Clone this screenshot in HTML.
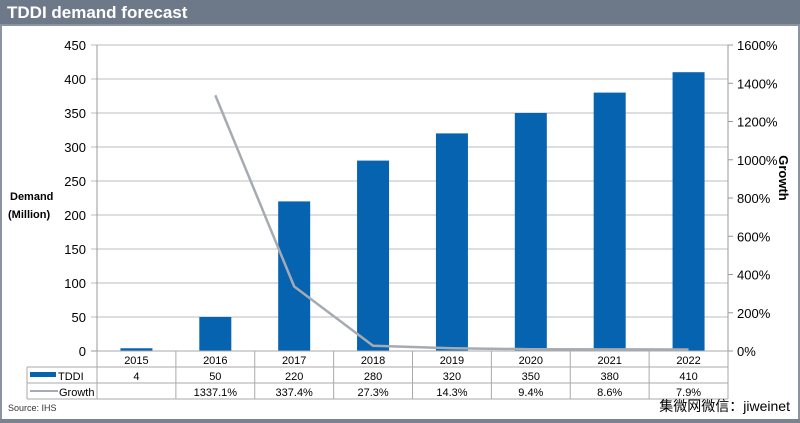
<!DOCTYPE html>
<html><head><meta charset="utf-8"><style>
body{margin:0;background:#fff;font-family:"Liberation Sans",Arial,sans-serif}
#wrap{position:relative;width:800px;height:423px;overflow:hidden;background:#fff}
</style></head><body>
<div id="wrap">
<svg id="svg" width="800" height="423" xmlns="http://www.w3.org/2000/svg" font-family="Liberation Sans, Arial, sans-serif">
<rect x="0" y="0" width="800" height="25" fill="#6d7989"/>
<text x="7" y="18" fill="#fff" font-size="17" font-weight="bold">TDDI demand forecast</text>
<rect x="1" y="25" width="798" height="395" fill="none" stroke="#8a94a0" stroke-width="2"/>
<rect x="0" y="419" width="800" height="4" fill="#7a8490"/>
<g id="grid"></g><g id="bars"></g><g id="line"></g><g id="axes"></g><g id="table"></g>
<text x="10" y="200" font-size="11" font-weight="bold">Demand</text>
<text x="8" y="218" font-size="11" font-weight="bold">(Million)</text>
<text transform="translate(779,178) rotate(90)" font-size="13" font-weight="bold" text-anchor="middle">Growth</text>
<text x="8" y="411" font-size="9" fill="#333">Source: IHS</text>
<text x="790" y="411" font-size="14" text-anchor="end" font-family="Liberation Sans, Noto Sans CJK SC, sans-serif">集微网微信：jiweinet</text>
</svg>
<script>
const categories=["2015","2016","2017","2018","2019","2020","2021","2022"];
const demand=[4,50,220,280,320,350,380,410];
const growth=[null,1337.1,337.4,27.3,14.3,9.4,8.6,7.9];
const growthLabels=["","1337.1%","337.4%","27.3%","14.3%","9.4%","8.6%","7.9%"];
const leftTicks=[0,50,100,150,200,250,300,350,400,450];
const rightTicks=[0,200,400,600,800,1000,1200,1400,1600];
const NS="http://www.w3.org/2000/svg";
const x0=97,x1=728,yTop=45,yBot=351;
const bw=(x1-x0)/categories.length;
const y=v=>yBot-v/450*(yBot-yTop);
const y2=v=>yBot-v/1600*(yBot-yTop);
const xc=i=>x0+bw*(i+0.5);
function mk(tag,attrs,parent,txt){const e=document.createElementNS(NS,tag);for(const k in attrs)e.setAttribute(k,attrs[k]);if(txt!==undefined)e.textContent=txt;document.getElementById(parent).appendChild(e);return e;}
leftTicks.forEach(t=>{
 const l=mk('line',{x1:x0-6,x2:x1,y1:y(t),y2:y(t),stroke:t===0?'#999':'#b8bec6','stroke-width':1},'grid');
 
 
 const tx=mk('text',{x:86,y:y(t)+5,'text-anchor':'end','font-size':13},'axes',String(t));
 
 
});
rightTicks.forEach(t=>{
 const l=mk('line',{x1:x1,x2:x1+5,y1:y2(t),y2:y2(t),stroke:'#999'},'axes');
 
 
 const tx=mk('text',{x:737,y:y2(t)+5,'font-size':13},'axes',t+'%');
 
 
});
let ax=mk('line',{x1:x0,x2:x0,y1:yTop,y2:yBot,stroke:'#999'},'axes');


ax=mk('line',{x1:x1,x2:x1,y1:yTop,y2:399,stroke:'#999'},'axes');


demand.forEach((v,i)=>{
 const r=mk('rect',{x:xc(i)-16,y:y(v),width:32,height:yBot-y(v),fill:'#0563b0'},'bars');
 
 
});
const pts=growth.map((g,i)=>g===null?null:xc(i)+','+y2(g)).filter(p=>p);
const pl=mk('polyline',{points:pts.join(' '),fill:'none',stroke:'#a6abb2','stroke-width':2.5},'line');


const rows=[351,367,383,399];
rows.forEach((ry,k)=>{
 const l=mk('line',{x1:k===0?x0:27,x2:x1,y1:ry,y2:ry,stroke:'#aaa'},'table');
 
 
});
let v=mk('line',{x1:27,x2:27,y1:367,y2:399,stroke:'#aaa'},'table');


for(let i=0;i<=categories.length;i++){
 const l=mk('line',{x1:x0+bw*i,x2:x0+bw*i,y1:351,y2:399,stroke:'#aaa'},'table');
 
 
}
categories.forEach((c,i)=>{
 let t=mk('text',{x:xc(i),y:364,'text-anchor':'middle','font-size':11},'table',c);
 
 
 t=mk('text',{x:xc(i),y:380,'text-anchor':'middle','font-size':11},'table',String(demand[i]));
 
 
 t=mk('text',{x:xc(i),y:396,'text-anchor':'middle','font-size':11},'table',growthLabels[i]);
 
 
});
let lg=mk('rect',{x:30,y:372,width:26,height:5,fill:'#0563b0'},'table');


lg=mk('text',{x:58,y:380,'font-size':11},'table','TDDI');


lg=mk('line',{x1:30,x2:58,y1:391,y2:391,stroke:'#a6abb2','stroke-width':2},'table');


lg=mk('text',{x:59,y:396,'font-size':11},'table','Growth');


</script>
</div></body></html>
